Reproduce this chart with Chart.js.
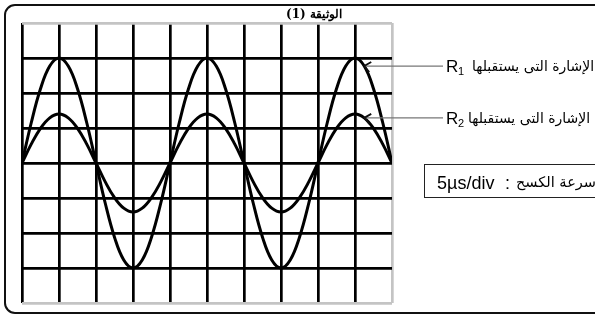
<!DOCTYPE html>
<html>
<head>
<meta charset="utf-8">
<script src="https://cdn.jsdelivr.net/npm/chart.js@4.4.1/dist/chart.umd.min.js"></script>
<style>
html,body{margin:0;padding:0;background:#fff;}
#wrap{position:relative;width:595px;height:316px;}
</style>
</head>
<body>
<div id="wrap"><canvas id="c" width="595" height="316"></canvas></div>
<script>
// time in divisions (5 µs/div)
const times = [0,0.25,0.5,0.75,1,1.25,1.5,1.75,2,2.25,2.5,2.75,3,3.25,3.5,3.75,4,4.25,4.5,4.75,5,5.25,5.5,5.75,6,6.25,6.5,6.75,7,7.25,7.5,7.75,8,8.25,8.5,8.75,9,9.25,9.5,9.75,10];
// signal received by R1 (divisions)
const r1Values = [0,1.15,2.12,2.77,3,2.77,2.12,1.15,0,-1.15,-2.12,-2.77,-3,-2.77,-2.12,-1.15,
  0,1.15,2.12,2.77,3,2.77,2.12,1.15,0,-1.15,-2.12,-2.77,-3,-2.77,-2.12,-1.15,
  0,1.15,2.12,2.77,3,2.77,2.12,1.15,0];
// signal received by R2 (divisions)
const r2Values = [0,0.54,0.99,1.29,1.4,1.29,0.99,0.54,0,-0.54,-0.99,-1.29,-1.4,-1.29,-0.99,-0.54,
  0,0.54,0.99,1.29,1.4,1.29,0.99,0.54,0,-0.54,-0.99,-1.29,-1.4,-1.29,-0.99,-0.54,
  0,0.54,0.99,1.29,1.4,1.29,0.99,0.54,0];
const titleText = 'الوثيقة (1)';
const labelR1 = 'الإشارة التى يستقبلها';
const labelR2 = 'الإشارة التى يستقبلها';
const sweepLabel = 'سرعة الكسح';
const sweepValue = '5µs/div';
const arrowIndex = 37;

const pts = v => times.map((t,i)=>({x:t,y:v[i]}));

const deco = {
  id:'deco',
  afterDraw(chart){
    const ctx = chart.ctx;
    const xs = chart.scales.x, ys = chart.scales.y;
    ctx.save();
    // outer frame
    ctx.strokeStyle='#111'; ctx.lineWidth=2;
    ctx.beginPath();
    ctx.roundRect(5,5,640,308,10);
    ctx.stroke();
    // title
    ctx.fillStyle='#000';
    ctx.font='bold 12px "DejaVu Serif","Liberation Serif",serif';
    ctx.direction='rtl';
    ctx.textAlign='center';
    ctx.textBaseline='alphabetic';
    ctx.fillText(titleText, 314, 18);
    // arrows + labels
    const drawLabel = (vals, sub, txt, txtX) => {
      const tx = xs.getPixelForValue(times[arrowIndex]);
      const ty = ys.getPixelForValue(vals[arrowIndex]);
      ctx.strokeStyle='#777'; ctx.lineWidth=1.2;
      ctx.beginPath(); ctx.moveTo(tx,ty); ctx.lineTo(443,ty); ctx.stroke();
      ctx.strokeStyle='#111'; ctx.lineWidth=1.8;
      ctx.beginPath(); ctx.moveTo(tx+7,ty-4); ctx.lineTo(tx,ty); ctx.lineTo(tx+5,ty+6); ctx.stroke();
      ctx.direction='ltr'; ctx.textAlign='left';
      ctx.fillStyle='#000';
      ctx.font='17px "Liberation Sans",Arial,sans-serif';
      ctx.fillText('R', 446, ty+6);
      ctx.font='11px "Liberation Sans",Arial,sans-serif';
      ctx.fillText(sub, 458, ty+9);
      ctx.font='14px "DejaVu Sans",sans-serif';
      ctx.direction='rtl'; ctx.textAlign='left';
      ctx.fillText(txt, txtX, ty+5);
    };
    drawLabel(r1Values,'1',labelR1,472);
    drawLabel(r2Values,'2',labelR2,468);
    // sweep box
    ctx.strokeStyle='#222'; ctx.lineWidth=1;
    ctx.strokeRect(424.5,164.5,200,33);
    ctx.direction='ltr'; ctx.textAlign='left';
    ctx.fillStyle='#000';
    ctx.font='18px "Liberation Sans",Arial,sans-serif';
    ctx.fillText(sweepValue, 437, 189);
    ctx.fillText(':', 505, 189);
    ctx.font='14.5px "DejaVu Sans",sans-serif';
    ctx.direction='rtl'; ctx.textAlign='left';
    ctx.fillText(sweepLabel, 516, 187);
    ctx.restore();
  }
};

new Chart(document.getElementById('c'), {
  type:'line',
  data:{datasets:[
    {label:'R1', data:pts(r1Values), borderColor:'#000', borderWidth:3, pointRadius:0, tension:0.4, fill:false},
    {label:'R2', data:pts(r2Values), borderColor:'#000', borderWidth:3, pointRadius:0, tension:0.4, fill:false}
  ]},
  options:{
    responsive:false, animation:false, devicePixelRatio:1,
    layout:{padding:{left:22,top:23,right:203,bottom:13}},
    plugins:{legend:{display:false}, tooltip:{enabled:false}, title:{display:false}},
    scales:{
      x:{type:'linear',min:0,max:10,
         ticks:{display:false,stepSize:1},
         border:{display:false},
         grid:{drawTicks:false, lineWidth:2.7, color:c=>c.tick && c.tick.value===10?'#c4c4c4':'#000'}},
      y:{type:'linear',min:-4,max:4,
         ticks:{display:false,stepSize:1},
         border:{display:false},
         grid:{drawTicks:false, lineWidth:2.7, color:c=>c.tick && Math.abs(c.tick.value)===4?'#c4c4c4':'#000'}}
    }
  },
  plugins:[deco]
});
</script>
</body>
</html>
